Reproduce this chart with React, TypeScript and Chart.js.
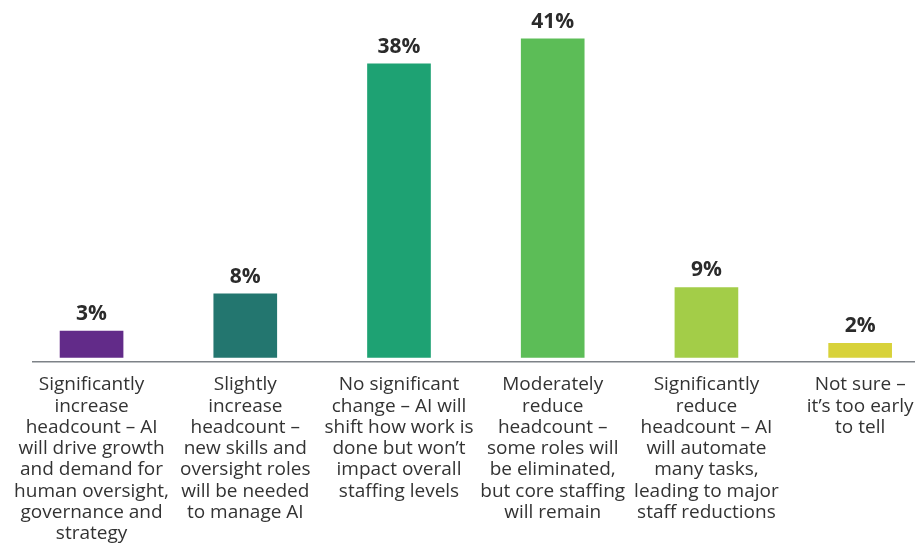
import React, { useEffect, useRef } from "react";
import { Chart, registerables } from "chart.js";

Chart.register(...registerables);

const categories: string[][] = [
  ["Significantly", "increase", "headcount – AI", "will drive growth", "and demand for", "human oversight,", "governance and", "strategy"],
  ["Slightly", "increase", "headcount –", "new skills and", "oversight roles", "will be needed", "to manage AI"],
  ["No significant", "change – AI will", "shift how work is", "done but won’t", "impact overall", "staffing levels"],
  ["Moderately", "reduce", "headcount –", "some roles will", "be eliminated,", "but core staffing", "will remain"],
  ["Significantly", "reduce", "headcount – AI", "will automate", "many tasks,", "leading to major", "staff reductions"],
  ["Not sure –", "it’s too early", "to tell"],
];
const values: number[] = [3.4, 8.2, 37.8, 41, 9, 1.8];
const valueLabels: string[] = ["3%", "8%", "38%", "41%", "9%", "2%"];
const barColors: string[] = ["#622B89", "#23766F", "#1EA273", "#5CBD57", "#A3CD48", "#D8D23A"];

const FONT = "'Open Sans', 'Noto Sans', sans-serif";

const valueLabelPlugin = {
  id: "valueLabels",
  afterDatasetsDraw(chart: any) {
    const ctx = chart.ctx;
    const meta = chart.getDatasetMeta(0);
    ctx.save();
    ctx.font = `bold 21px ${FONT}`;
    ctx.fillStyle = "#2b2b2b";
    ctx.textAlign = "center";
    ctx.textBaseline = "alphabetic";
    meta.data.forEach((bar: any, i: number) => {
      ctx.fillText(valueLabels[i], bar.x, bar.y - 11);
    });
    ctx.restore();
  },
};

const axisLinePlugin = {
  id: "axisLine",
  afterDatasetsDraw(chart: any) {
    const ctx = chart.ctx;
    const y = chart.chartArea.bottom;
    ctx.save();
    ctx.strokeStyle = "#7d8287";
    ctx.lineWidth = 1.5;
    ctx.beginPath();
    ctx.moveTo(32, y);
    ctx.lineTo(chart.width, y);
    ctx.stroke();
    ctx.restore();
  },
};

export default function App() {
  const canvasRef = useRef<HTMLCanvasElement | null>(null);

  useEffect(() => {
    if (!canvasRef.current) return;
    const chart = new Chart(canvasRef.current, {
      type: "bar",
      data: {
        labels: categories,
        datasets: [
          {
            data: values,
            backgroundColor: barColors,
            barThickness: 63,
            borderWidth: 0,
          },
        ],
      },
      options: {
        animation: false,
        responsive: true,
        maintainAspectRatio: false,
        layout: { padding: { left: 14.7, right: 0, top: 0, bottom: 0 } },
        plugins: {
          legend: { display: false },
          tooltip: { enabled: false },
        },
        scales: {
          x: {
            grid: { display: false, drawTicks: false },
            border: { display: false },
            ticks: {
              color: "#333333",
              font: { family: FONT, size: 19, lineHeight: 1.12 },
              padding: 12.5,
              maxRotation: 0,
              minRotation: 0,
              autoSkip: false,
            },
            afterFit(scale: any) {
              scale.height = 184.3;
            },
          },
          y: {
            display: false,
            min: -0.55,
            max: 46,
          },
        },
      },
      plugins: [valueLabelPlugin, axisLinePlugin],
    });
    return () => chart.destroy();
  }, []);

  return (
    <div style={{ position: "fixed", left: 0, top: 0, width: 915, height: 546, overflow: "hidden", background: "#ffffff" }}>
      <div style={{ position: "relative", width: 937, height: 546 }}>
        <canvas ref={canvasRef} />
      </div>
    </div>
  );
}
